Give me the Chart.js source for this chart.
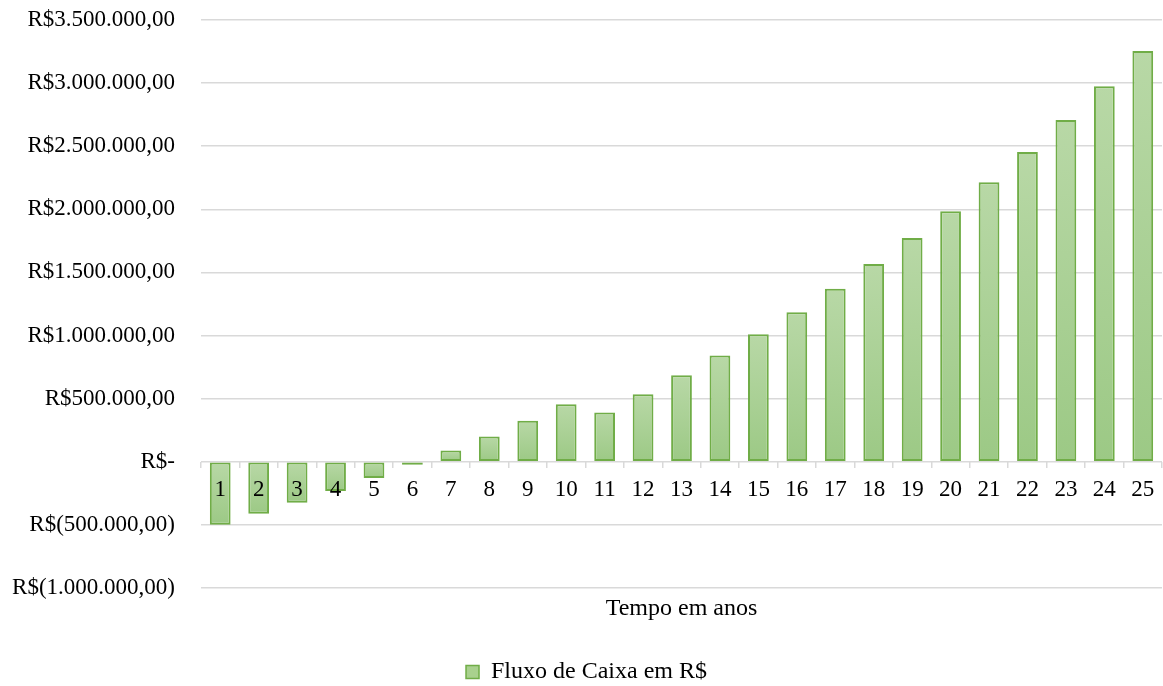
<!DOCTYPE html>
<html lang="pt-BR">
<head>
<meta charset="utf-8">
<title>Fluxo de Caixa em R$</title>
<script src="https://cdn.jsdelivr.net/npm/chart.js@4.4.1/dist/chart.umd.min.js"></script>
<style>
  html, body { margin: 0; padding: 0; background: #ffffff; }
  #wrap { width: 1163px; height: 686px; }
</style>
</head>
<body>
<div id="wrap"><canvas id="grafico" width="1163" height="686"></canvas></div>
<script>
// Anos do horizonte de análise
const anos = ['1','2','3','4','5','6','7','8','9','10','11','12','13','14','15',
              '16','17','18','19','20','21','22','23','24','25'];

// Fluxo de caixa anual (R$)
const fluxoCaixa = [
  -498000, -412000, -325000, -232000, -129000, -24000,
    89000,  201000,  326000,  455000,  391000,  535000,
   686000,  841000, 1010000, 1185000, 1370000, 1566000,
  1772000, 1985000, 2215000, 2455000, 2708000, 2975000, 3254000
];

// Marcas do eixo vertical
const valoresEixoY = [-1000000, -500000, 0, 500000, 1000000, 1500000,
                      2000000, 2500000, 3000000, 3500000];

const nomeSerie = 'Fluxo de Caixa em R$';
const tituloEixoX = 'Tempo em anos';

const FONTE = 'Liberation Serif, "Times New Roman", serif';
const COR_TEXTO = '#000000';
const COR_GRADE = '#d9d9d9';
const COR_BORDA = '#70ad47';
const COR_TOPO = '#b8d8a6';
const COR_BASE = '#9cc985';

// Formato contábil: R$3.500.000,00 / R$(500.000,00) / R$-
function formatarReal(v) {
  if (v === 0) return 'R$-';
  const inteiro = Math.round(Math.abs(v)).toString().replace(/\B(?=(\d{3})+(?!\d))/g, '.');
  const texto = inteiro + ',00';
  return v < 0 ? 'R$(' + texto + ')' : 'R$' + texto;
}

// Degradê vertical dentro de cada barra (claro em cima, mais escuro embaixo)
function preenchimentoBarra(context) {
  const chart = context.chart;
  if (context.type !== 'data' || !chart.chartArea || !chart.scales.y) return COR_BASE;
  const escala = chart.scales.y;
  const yZero = escala.getPixelForValue(0);
  const yValor = escala.getPixelForValue(context.parsed ? context.parsed.y : 0);
  const topo = Math.min(yZero, yValor);
  const base = Math.max(yZero, yValor);
  if (base - topo < 2) return COR_BASE;
  const g = chart.ctx.createLinearGradient(0, topo, 0, base);
  g.addColorStop(0, COR_TOPO);
  g.addColorStop(1, COR_BASE);
  return g;
}

new Chart(document.getElementById('grafico'), {
  type: 'bar',
  data: {
    labels: anos,
    datasets: [{
      label: nomeSerie,
      data: fluxoCaixa,
      xAxisID: 'x',
      yAxisID: 'y',
      backgroundColor: preenchimentoBarra,
      borderColor: COR_BORDA,
      borderWidth: 2,
      borderSkipped: false,
      barPercentage: 1,
      categoryPercentage: 0.54
    }]
  },
  options: {
    responsive: false,
    animation: false,
    layout: { padding: { top: 20, left: 11, right: 1, bottom: -8 } },
    plugins: {
      tooltip: { enabled: false },
      legend: {
        position: 'bottom',
        labels: {
          color: COR_TEXTO,
          font: { family: FONTE, size: 24 },
          boxWidth: 13,
          boxHeight: 13,
          padding: 5,
          generateLabels: (chart) => {
            const itens = Chart.defaults.plugins.legend.labels.generateLabels(chart);
            itens.forEach(item => {
              item.fillStyle = '#a9d18e';
              item.strokeStyle = COR_BORDA;
              item.lineWidth = 1.5;
            });
            return itens;
          }
        }
      }
    },
    scales: {
      x: {
        type: 'category',
        position: { y: 0 },
        border: { display: false },
        grid: {
          display: true,
          drawOnChartArea: false,
          drawTicks: true,
          tickLength: 6,
          offset: true,
          color: COR_GRADE,
          lineWidth: 1.5
        },
        ticks: {
          z: 1,
          color: COR_TEXTO,
          font: { family: FONTE, size: 23 },
          padding: 8,
          maxRotation: 0,
          autoSkip: false
        }
      },
      xTitulo: {
        type: 'category',
        labels: anos,
        position: 'bottom',
        grid: { display: false },
        border: { display: false },
        ticks: { display: false },
        title: {
          display: true,
          text: tituloEixoX,
          color: COR_TEXTO,
          font: { family: FONTE, size: 24, lineHeight: 1 },
          padding: { top: 1, bottom: 34 }
        }
      },
      y: {
        min: valoresEixoY[0],
        max: valoresEixoY[valoresEixoY.length - 1],
        afterBuildTicks: (escala) => {
          escala.ticks = valoresEixoY.map(v => ({ value: v }));
        },
        afterFit: (escala) => {
          escala.width = 190;
          escala.paddingTop = 0;
          escala.paddingBottom = 0;
        },
        border: { display: false },
        grid: { color: COR_GRADE, lineWidth: 1.5, drawTicks: false },
        ticks: {
          color: COR_TEXTO,
          font: { family: FONTE, size: 23 },
          padding: 26,
          callback: (v) => formatarReal(v)
        }
      }
    }
  }
});
</script>
</body>
</html>
